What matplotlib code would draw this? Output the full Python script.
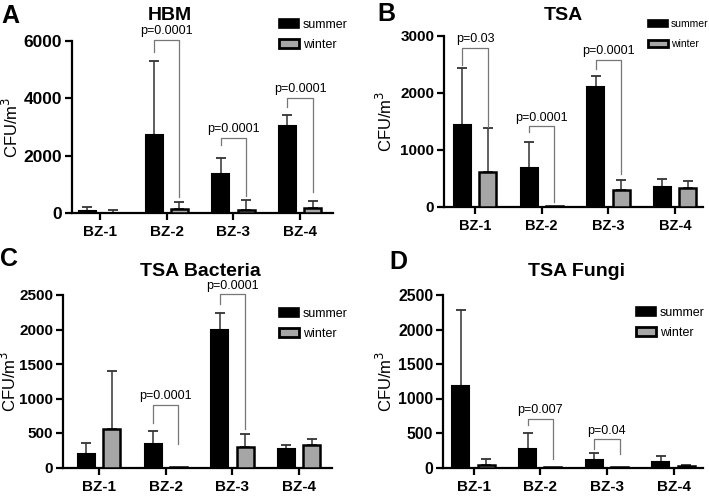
import numpy as np
import matplotlib.pyplot as plt
from matplotlib.patches import Patch
from matplotlib.transforms import ScaledTranslation

plt.rcParams['font.family'] = ['Liberation Sans', 'DejaVu Sans']

sites = ['BZ-1', 'BZ-2', 'BZ-3', 'BZ-4']

# HBM
hbm_summer = [60, 2728, 1376, 3040]
hbm_summer_sd = [152, 2590, 529, 370]
hbm_winter = [10, 129, 94, 165]
hbm_winter_sd = [84, 259, 365, 270]

# TSA
tsa_summer = [1428, 676, 2098, 353]
tsa_summer_sd = [997, 459, 201, 141]
tsa_winter = [606, 18, 294, 341]
tsa_winter_sd = [770, 0, 176, 118]

# TSA bacteria
bac_summer = [198, 343, 1990, 261]
bac_summer_sd = [150, 188, 255, 67]
bac_winter = [560, 14, 290, 319]
bac_winter_sd = [840, 0, 198, 101]

# TSA fungi
fun_summer = [1183, 270, 106, 82]
fun_summer_sd = [1101, 237, 111, 87]
fun_winter = [43, 10, 3, 19]
fun_winter_sd = [78, 0, 0, 24]

# significance brackets: (site index, bracket top, left leg end, right leg end, label)
hbm_sig = [(1, 6050, 5600, 560, 'p=0.0001'), (2, 2610, 2380, 580, 'p=0.0001'),
           (3, 4010, 3700, 750, 'p=0.0001')]
tsa_sig = [(0, 2780, 2490, 1400, 'p=0.03'), (1, 1410, 1310, 90, 'p=0.0001'),
           (2, 2580, 2410, 576, 'p=0.0001')]
bac_sig = [(1, 903, 638, 345, 'p=0.0001'), (2, 2510, 2367, 565, 'p=0.0001')]
fun_sig = [(1, 700, 613, 121, 'p=0.007'), (2, 406, 275, 193, 'p=0.04')]

W, H = 709, 496
fig = plt.figure(figsize=(W / 100, H / 100), dpi=100)

GREY = '#a6a6a6'
SPACING = 66.7  # px between groups
OFF = 0.19
BW = 0.255


def make_axes(left, top, right, bottom, tick0):
    ax = fig.add_axes([left / W, 1 - bottom / H, (right - left) / W, (bottom - top) / H])
    ax.set_xlim((left - tick0) / SPACING, (right - tick0) / SPACING)
    return ax


def panel(ax, summer, ssd, winter, wsd, ymax, ystep, sig, title, title_xy,
          letter, letter_xy, leg_xy, ylab_x, label_shift, xfs=11, yfs=12, lfs=9):
    x = np.arange(len(sites))
    ax.bar(x - OFF, summer, BW, color='black', edgecolor='black', linewidth=1.5, zorder=3)
    ax.bar(x + OFF, winter, BW, color=GREY, edgecolor='black', linewidth=1.8, zorder=3)
    for xs, m, sd in [(x - OFF, summer, ssd), (x + OFF, winter, wsd)]:
        keep = np.array(sd) > 0
        ax.errorbar(xs[keep], np.array(m)[keep],
                    yerr=[np.zeros(keep.sum()), np.array(sd)[keep]],
                    fmt='none', ecolor='#333333', elinewidth=1.1, capsize=3.5,
                    capthick=1.3, zorder=2)
    for i, top, lend, rend, txt in sig:
        xl, xr = i - OFF, i + OFF
        ax.plot([xl, xl, xr, xr], [lend, top, top, rend], color='#777777',
                lw=0.9, clip_on=False, zorder=4)
        ax.annotate(txt, ((xl + xr) / 2, top), xytext=(0, 2), textcoords='offset points',
                    ha='center', va='bottom', fontsize=9, annotation_clip=False)

    ax.set_ylim(0, ymax)
    ax.set_yticks(np.arange(0, ymax + 1, ystep))
    ax.set_xticks(x)
    ax.set_xticklabels(sites)
    for lab, dx in zip(ax.get_xticklabels(), label_shift):
        lab.set_transform(lab.get_transform() + ScaledTranslation(dx / 100, 0, fig.dpi_scale_trans))
        lab.set_fontsize(xfs)
    for lab in ax.get_yticklabels():
        lab.set_fontsize(yfs)
    for lab in ax.get_xticklabels() + ax.get_yticklabels():
        lab.set_fontweight('bold')
    ax.tick_params(axis='both', width=1.6, length=5, pad=2)
    ax.tick_params(axis='x', pad=4)
    for s in ['top', 'right']:
        ax.spines[s].set_visible(False)
    for s in ['left', 'bottom']:
        ax.spines[s].set_linewidth(1.6)
    ax.set_ylabel('CFU/m$^3$', fontsize=12)
    ax.yaxis.set_label_coords(ylab_x, 0.5)

    fig.text(title_xy[0] / W, 1 - title_xy[1] / H, title, ha='center', va='center',
             fontsize=14, fontweight='bold')
    fig.text(letter_xy[0] / W, 1 - letter_xy[1] / H, letter, ha='left', va='center',
             fontsize=18, fontweight='bold')
    handles = [Patch(facecolor='black', edgecolor='black', linewidth=1.2),
               Patch(facecolor=GREY, edgecolor='black', linewidth=2)]
    # row spacing ~23 px whatever the font size
    spacing = (23 - lfs * 1.389 * 1.2) / (lfs * 1.389)
    ax.legend(handles, ['summer', 'winter'], loc='upper left',
              bbox_to_anchor=(leg_xy[0] / W, 1 - leg_xy[1] / H),
              bbox_transform=fig.transFigure, frameon=False, fontsize=lfs,
              handlelength=20 / (lfs * 1.389), handleheight=0.7, labelspacing=spacing,
              handletextpad=0.3, borderpad=0, borderaxespad=0)


axA = make_axes(72, 41, 333, 213, 100)
panel(axA, hbm_summer, hbm_summer_sd, hbm_winter, hbm_winter_sd, 6000, 2000, hbm_sig,
      'HBM', (170, 15), 'A', (1, 16), (279, 19), -0.195, [-8] * 4, yfs=12.5)

axB = make_axes(444, 35.5, 703, 207, 475)
panel(axB, tsa_summer, tsa_summer_sd, tsa_winter, tsa_winter_sd, 3000, 1000, tsa_sig,
      'TSA', (563, 15), 'B', (377, 14), (648, 19), -0.19, [-40, -30, -30, -34],
      xfs=10.5, yfs=11, lfs=7.5)

axC = make_axes(63, 295, 332, 467.5, 99)
panel(axC, bac_summer, bac_summer_sd, bac_winter, bac_winter_sd, 2500, 500, bac_sig,
      'TSA Bacteria', (200, 271), 'C', (0, 259), (279, 308), -0.165, [-9] * 4, yfs=11)

axD = make_axes(443, 295, 703, 467.5, 473.5)
panel(axD, fun_summer, fun_summer_sd, fun_winter, fun_winter_sd, 2500, 500, fun_sig,
      'TSA Fungi', (577, 272), 'D', (389, 262), (636, 307), -0.185, [-8] * 4, yfs=11.3)

fig.savefig('out.png', dpi=100)
